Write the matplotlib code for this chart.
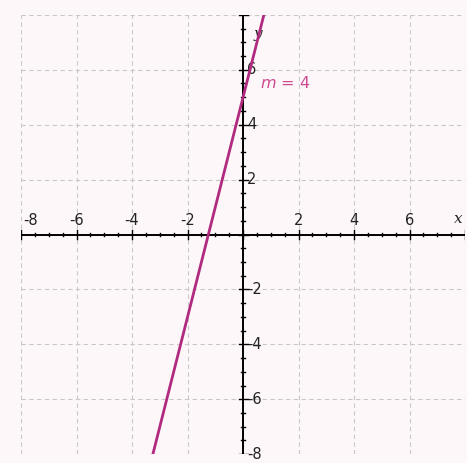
import numpy as np
import matplotlib as mpl
mpl.use('Agg')
from matplotlib import pyplot as plt

# line y = m*x + b
slope = 4
intercept = 5
x_range = [-8, 8]
y_range = [-8, 8]
x_tick_labels = [-8, -6, -4, -2, 2, 4, 6]
y_tick_labels = [-8, -6, -4, -2, 2, 4, 6]

fig = plt.figure(figsize=(4.67, 4.63), dpi=100)
fig.patch.set_facecolor('#fdf7f9')
ax = fig.add_axes([0.045, 0.019, 0.951, 0.949])
ax.set_facecolor('#fdf7f9')
ax.set_xlim(x_range)
ax.set_ylim(y_range)
for s in ax.spines.values():
    s.set_visible(False)
ax.set_xticks([])
ax.set_yticks([])

# dashed grid
for g in range(-8, 9, 2):
    ax.axvline(g, color='#c8c8c8', lw=0.8, ls=(0, (4, 3)), zorder=0)
    ax.axhline(g, color='#c8c8c8', lw=0.8, ls=(0, (4, 3)), zorder=0)

# axes through origin
ax.axhline(0, color='black', lw=1.4, zorder=2)
ax.axvline(0, color='black', lw=1.4, zorder=2)
minor = np.arange(-8, 8.01, 0.5)
for t in minor:
    big = (t % 2 == 0)
    h = 0.16 if big else 0.07
    ax.plot([t, t], [-h, h], color='black', lw=1.0, zorder=2)
    ax.plot([-h, h], [t, t], color='black', lw=1.0, zorder=2)

for v in x_tick_labels:
    xpos = v + 0.35 if v == -8 else v
    ax.text(xpos, 0.22, str(v), ha='center', va='bottom',
            fontsize=10.5, color='#222222')
for v in y_tick_labels:
    ax.text(0.15, v, str(v), ha='left', va='center',
            fontsize=10.5, color='#222222')
ax.text(7.75, 0.3, 'x', ha='center', va='bottom', fontsize=11,
        style='italic', color='#222222', family='DejaVu Serif')
ax.text(0.55, 7.3, 'y', ha='center', va='center', fontsize=11,
        style='italic', color='#222222', family='DejaVu Serif')

xs = np.array(x_range, dtype=float)
ax.plot(xs, slope * xs + intercept, color='#b02a80', lw=2.0, zorder=3)
ax.text(0.6, 5.5, r'$m$ = %d' % slope, ha='left', va='center', fontsize=11.5,
        color='#d04a90')

fig.savefig('out.png', dpi=100, facecolor=fig.get_facecolor())
